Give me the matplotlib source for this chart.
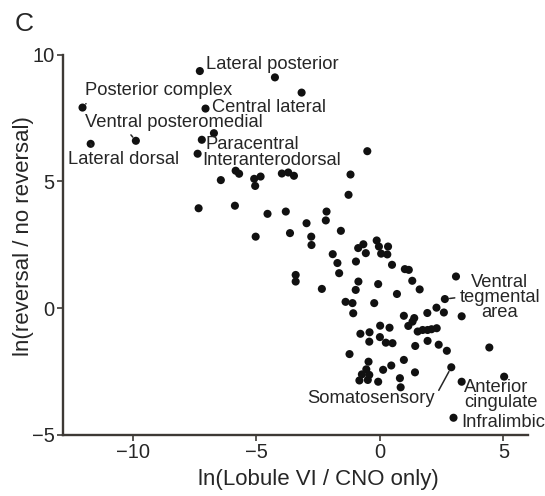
import matplotlib
matplotlib.use("Agg")
import matplotlib.pyplot as plt

plt.rcParams['font.family'] = ['Liberation Sans', 'DejaVu Sans']

# ln(Lobule VI / CNO only)
x_vals = [-7.29, -12.04, -7.06, -4.25, -3.17, -9.88, -11.71, -6.72, -7.21, -7.38,
          -5.84, -5.70, -6.44, -5.09, -4.83, -5.05, -3.97, -3.71, -3.48, -7.34,
          -5.87, -4.55, -3.81, -2.97, -2.16, -2.19, -0.51, -1.19, -1.27, -5.03,
          -3.64, -2.78, -2.77, -1.58, -3.41, -3.41, -1.91, -1.72, -1.65, -2.35,
          -0.97, -0.88, -0.67, -0.57, -0.13, -0.04, 0.05, 0.33, 0.30, 0.49,
          -0.87, -0.98, -0.07, 0.69, -1.39, -1.11, -1.08, -0.23, 0.01, 0.39,
          1.01, 1.17, 1.31, 1.61, 3.08, 2.63, 2.29, 2.59, 1.92, 3.31,
          0.97, 1.39, 1.32, 1.15, 1.53, 1.73, 1.93, 2.09, 2.30, -0.79,
          -0.42, 0.00, -0.43, 0.24, 0.51, 1.43, 1.93, 2.38, 2.71, 4.43,
          5.03, -1.23, -0.46, 0.13, 0.46, 0.97, 1.42, 2.89, -0.55, -0.73,
          -0.43, -0.83, -0.49, -0.07, 0.81, 0.84, 3.31, 2.98]
# ln(reversal / no reversal)
y_vals = [9.35, 7.91, 7.87, 9.10, 8.50, 6.60, 6.48, 6.90, 6.64, 6.09,
          5.42, 5.30, 5.05, 5.10, 5.19, 4.82, 5.31, 5.35, 5.22, 3.94,
          4.04, 3.72, 3.81, 3.35, 3.81, 3.46, 6.19, 5.27, 4.47, 2.82,
          2.96, 2.82, 2.49, 3.05, 1.31, 1.05, 2.13, 1.78, 1.38, 0.76,
          1.84, 2.37, 2.52, 2.17, 2.67, 2.43, 2.15, 2.43, 2.12, 1.71,
          1.05, 0.72, 0.95, 0.56, 0.25, 0.20, -0.20, 0.20, -0.69, -0.77,
          1.54, 1.51, 1.08, 0.74, 1.25, 0.36, 0.02, -0.17, -0.19, -0.32,
          -0.30, -0.39, -0.53, -0.70, -0.92, -0.86, -0.86, -0.83, -0.79, -1.01,
          -0.95, -1.14, -1.32, -1.36, -1.38, -1.49, -1.29, -1.44, -1.68, -1.55,
          -2.70, -1.81, -2.11, -2.43, -2.26, -2.04, -2.53, -2.33, -2.41, -2.61,
          -2.63, -2.85, -2.83, -2.90, -2.76, -3.12, -2.90, -4.32]

# region labels: (text, index of labelled point, text x, text y, ha, leader relpos or None)
labels = [
    ("Lateral posterior", 0, -7.06, 9.60, 'left', None),
    ("Posterior complex", 1, -11.92, 8.57, 'left', (0.03, 0.0)),
    ("Central lateral", 2, -6.81, 7.93, 'left', None),
    ("Ventral posteromedial", 5, -11.92, 7.34, 'left', (0.235, 0.0)),
    ("Paracentral", 8, -7.06, 6.44, 'left', None),
    ("Interanterodorsal", 9, -7.19, 5.82, 'left', None),
    ("Lateral dorsal", 6, -12.64, 5.88, 'left', (0.24, 1.0)),
    ("Ventral\ntegmental\narea", 65, 4.86, 0.43, 'center', (0.0, 0.5)),
    ("Somatosensory", 97, 2.23, -3.58, 'right', (1.0, 0.6)),
    ("Anterior\ncingulate", 106, 3.40, -3.44, 'left', None),
    ("Infralimbic", 107, 3.31, -4.51, 'left', None),
]

axis_col = '#3d3935'
text_col = '#262626'
lab_size = 13.2

fig = plt.figure(figsize=(5.45, 4.96), dpi=100)
ax = fig.add_axes([0.1156, 0.123, 0.8534, 0.767])

ax.scatter(x_vals, y_vals, s=34, color='#111111', edgecolors='none', zorder=3)

for name, idx, tx, ty, ha, relpos in labels:
    if relpos is None:
        ax.text(tx, ty, name, ha=ha, va='center', fontsize=lab_size, color=text_col,
                linespacing=0.85)
    else:
        ax.annotate(name, xy=(x_vals[idx], y_vals[idx]), xytext=(tx, ty),
                    ha=ha, va='center', fontsize=lab_size, color=text_col, linespacing=0.85,
                    arrowprops=dict(arrowstyle='-', color=text_col, lw=1.1,
                                    relpos=relpos, shrinkA=1.5, shrinkB=3.5))

ax.set_xlim(-12.83, 6.0)
ax.set_ylim(-5, 10)
ax.set_xticks([-10, -5, 0, 5])
ax.set_yticks([-5, 0, 5, 10])

for side in ['top', 'right']:
    ax.spines[side].set_visible(False)
for side in ['left', 'bottom']:
    ax.spines[side].set_color(axis_col)
    ax.spines[side].set_linewidth(1.7)

ax.tick_params(direction='out', length=4, width=1.2, color=axis_col,
               labelsize=14.5, labelcolor=text_col, pad=2)

ax.set_xlabel("ln(Lobule VI / CNO only)", fontsize=16, color=text_col)
ax.set_ylabel("ln(reversal / no reversal)", fontsize=16, color=text_col)
ax.xaxis.set_label_coords(0.55, -0.09)
ax.yaxis.set_label_coords(-0.062, 0.523)

fig.text(15 / 545, 1 - 31 / 496, "C", fontsize=19, color=text_col)

fig.savefig("out.png", dpi=100)
